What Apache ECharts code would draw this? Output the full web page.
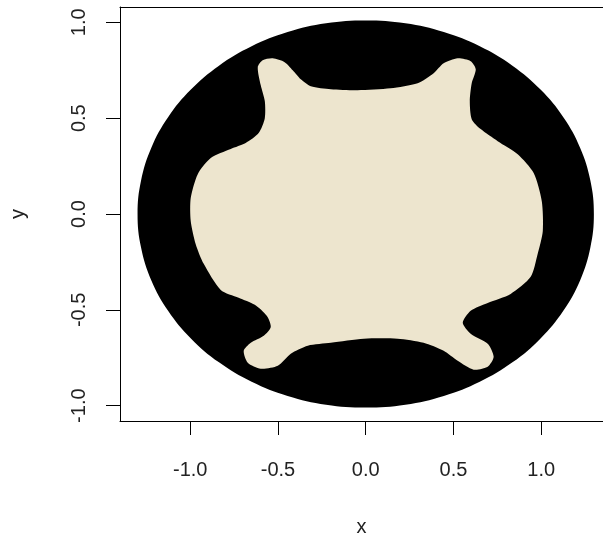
<!DOCTYPE html>
<html>
<head>
<meta charset="utf-8">
<script src="https://cdn.jsdelivr.net/npm/echarts@6/dist/echarts.min.js"></script>
<style>
  html, body { margin: 0; padding: 0; background: #fff; }
  #chart { width: 603px; height: 535px; }
</style>
</head>
<body>
<div id="chart"></div>
<script>
// outer region (black points), boundary
var outerX = [1.300, 1.280, 1.222, 1.126, 0.996, 0.836, 0.650, 0.445, 0.226, 0.000,
  -0.226, -0.445, -0.650, -0.836, -0.996, -1.126, -1.222, -1.280, -1.300,
  -1.280, -1.222, -1.126, -0.996, -0.836, -0.650, -0.445, -0.226, 0.000,
  0.226, 0.445, 0.650, 0.836, 0.996, 1.126, 1.222, 1.280];
var outerY = [0.000, 0.175, 0.345, 0.505, 0.649, 0.774, 0.875, 0.949, 0.995, 1.010,
  0.995, 0.949, 0.875, 0.774, 0.649, 0.505, 0.345, 0.175, 0.000,
  -0.175, -0.345, -0.505, -0.649, -0.774, -0.875, -0.949, -0.995, -1.010,
  -0.995, -0.949, -0.875, -0.774, -0.649, -0.505, -0.345, -0.175];

// inner region (beige points), boundary
var innerX = [-0.615, -0.587, -0.530, -0.462, -0.416, -0.370, -0.313, -0.199, -0.046, 0.142,
  0.296, 0.387, 0.444, 0.524, 0.598, 0.627, 0.604, 0.593, 0.604, 0.655,
  0.752, 0.866, 0.957, 1.003, 1.009, 0.980, 0.940, 0.826, 0.695, 0.598,
  0.553, 0.598, 0.695, 0.729, 0.695, 0.615, 0.524, 0.444, 0.330, 0.182,
  -0.011, -0.199, -0.330, -0.427, -0.501, -0.598, -0.672, -0.695, -0.655, -0.581,
  -0.541, -0.564, -0.632, -0.724, -0.826, -0.923, -0.969, -0.997, -0.997, -0.957,
  -0.883, -0.769, -0.684, -0.610, -0.575, -0.575, -0.598];
var innerY = [0.766, 0.802, 0.812, 0.792, 0.750, 0.703, 0.667, 0.651, 0.646, 0.656,
  0.682, 0.734, 0.786, 0.812, 0.797, 0.755, 0.682, 0.589, 0.495, 0.443,
  0.380, 0.312, 0.214, 0.068, -0.089, -0.208, -0.328, -0.417, -0.464, -0.505,
  -0.568, -0.625, -0.677, -0.745, -0.797, -0.812, -0.766, -0.714, -0.672, -0.651,
  -0.651, -0.672, -0.687, -0.729, -0.792, -0.807, -0.776, -0.714, -0.672, -0.635,
  -0.589, -0.531, -0.474, -0.437, -0.396, -0.260, -0.156, -0.036, 0.083, 0.208,
  0.292, 0.339, 0.370, 0.422, 0.500, 0.589, 0.672];

var tickValues = [-1.0, -0.5, 0.0, 0.5, 1.0];

var chart = echarts.init(document.getElementById('chart'));

function makePolygon(xs, ys, color, smooth) {
  var pts = xs.map(function (x, i) { return [x, ys[i]]; });
  return {
    type: 'custom',
    coordinateSystem: 'cartesian2d',
    data: pts,
    silent: true,
    renderItem: function (params, api) {
      if (params.dataIndex !== 0) return null;
      var poly = pts.map(function (p) { return api.coord(p); });
      return {
        type: 'polygon',
        shape: { points: poly, smooth: smooth },
        style: { fill: color }
      };
    }
  };
}

var font = '"Liberation Sans", Arial, sans-serif';
var blackLine = { show: true, onZero: false, lineStyle: { color: '#000', width: 1 } };

var option = {
  animation: false,
  grid: { left: 120, top: 7, width: 483, height: 414, outerBoundsMode: 'none', containLabel: false },
  xAxis: [{
    type: 'value', min: -1.4, max: 1.352,
    name: 'x', nameLocation: 'middle', nameGap: 96,
    nameTextStyle: { fontSize: 20, color: '#222', fontFamily: font },
    axisLine: blackLine,
    splitLine: { show: false },
    axisTick: { show: true, length: 14, lineStyle: { color: '#000' }, customValues: tickValues },
    axisLabel: {
      customValues: tickValues, margin: 39, fontSize: 20, color: '#222', fontFamily: font,
      formatter: function (v) { return v.toFixed(1); }
    }
  }, {
    // top edge of the box
    type: 'value', position: 'top', min: -1.4, max: 1.352,
    axisLine: blackLine, axisTick: { show: false }, axisLabel: { show: false },
    splitLine: { show: false }
  }],
  yAxis: {
    type: 'value', min: -1.08, max: 1.08,
    name: 'y', nameLocation: 'middle', nameGap: 92,
    nameTextStyle: { fontSize: 20, color: '#222', fontFamily: font },
    axisLine: blackLine,
    splitLine: { show: false },
    axisTick: { show: true, length: 14, lineStyle: { color: '#000' }, customValues: tickValues },
    axisLabel: {
      customValues: tickValues, margin: 31, rotate: 90, fontSize: 20, color: '#222', fontFamily: font,
      formatter: function (v) { return v.toFixed(1); }
    }
  },
  series: [
    makePolygon(outerX, outerY, '#000000', 0.4),
    makePolygon(innerX, innerY, '#EDE5CE', 0.25)
  ]
};

chart.setOption(option);
</script>
</body>
</html>
